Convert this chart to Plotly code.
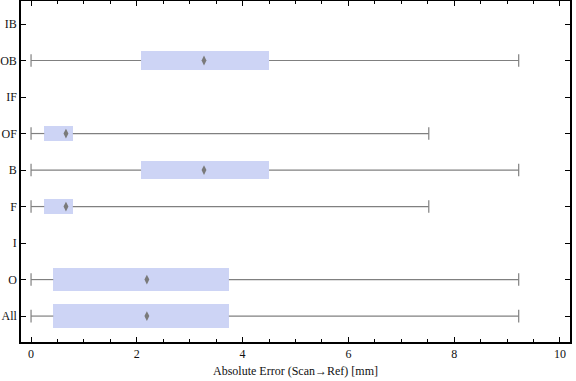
import plotly.graph_objects as go

categories = ["All", "O", "I", "F", "B", "OF", "IF", "OB", "IB"]
whisker_min = [0.0, 0.0, None, 0.0, 0.0, 0.0, None, 0.0, None]
q1 = [0.42, 0.42, None, 0.25, 2.08, 0.25, None, 2.08, None]
median = [2.19, 2.19, None, 0.66, 3.27, 0.66, None, 3.27, None]
q3 = [3.74, 3.74, None, 0.79, 4.50, 0.79, None, 4.50, None]
whisker_max = [9.22, 9.22, None, 7.52, 9.22, 7.52, None, 9.22, None]
box_width = [0.65, 0.65, 0.5, 0.4, 0.5, 0.4, 0.5, 0.5, 0.5]

fig = go.Figure()

# boxes
bx, by, bb, bw = [], [], [], []
for c, a, b, w in zip(categories, q1, q3, box_width):
    if a is None:
        continue
    bx.append(b - a); by.append(c); bb.append(a); bw.append(w)
fig.add_trace(go.Bar(x=bx, y=by, base=bb, width=bw, orientation="h",
                     marker=dict(color="#cdd4f5", line=dict(width=0)),
                     showlegend=False, hoverinfo="skip"))

# whiskers
wx, wy = [], []
cx, cy = [], []
for c, lo, a, b, hi in zip(categories, whisker_min, q1, q3, whisker_max):
    if lo is None:
        continue
    wx += [lo, a, None, b, hi, None]
    wy += [c, c, None, c, c, None]
    cx += [lo, hi]
    cy += [c, c]
fig.add_trace(go.Scatter(x=wx, y=wy, mode="lines",
                         line=dict(color="#808080", width=1.2),
                         showlegend=False, hoverinfo="skip"))
fig.add_trace(go.Scatter(x=cx, y=cy, mode="markers",
                         marker=dict(symbol="line-ns", size=9,
                                     line=dict(color="#808080", width=1.2)),
                         showlegend=False, hoverinfo="skip"))

# medians
mx = [m for m in median if m is not None]
my = [c for c, m in zip(categories, median) if m is not None]
fig.add_trace(go.Scatter(x=mx, y=my, mode="markers",
                         marker=dict(symbol="diamond-tall", size=7, color="#7a7a7a",
                                     line=dict(width=0)),
                         showlegend=False, hoverinfo="skip"))

font = dict(family="Liberation Serif", size=12, color="#111111")
fig.update_layout(
    width=576, height=381,
    margin=dict(l=21, r=6, t=1, b=39),
    plot_bgcolor="white", paper_bgcolor="white",
    font=font,
    bargap=0,
    xaxis=dict(range=[-0.19, 10.19], tickvals=[0, 2, 4, 6, 8, 10],
               ticks="inside", ticklen=5, tickcolor="black", tickwidth=1,
               minor=dict(ticks="inside", ticklen=3, dtick=0.5, tickcolor="black", showgrid=False),
               showline=True, linecolor="black", linewidth=1.5, mirror="ticks",
               showgrid=False, zeroline=False, automargin=False,
               title=dict(text="Absolute Error (Scan→Ref) [mm]", font=font, standoff=6)),
    yaxis=dict(type="category", categoryorder="array", categoryarray=categories,
               range=[-0.71, 8.63], automargin=False,
               ticks="inside", ticklen=5, tickcolor="black", tickwidth=1,
               showline=True, linecolor="black", linewidth=1.5, mirror="ticks",
               showgrid=False, zeroline=False),
)

fig.write_html("out.html", config={"displayModeBar": False},
               post_script="document.body.style.margin='0px';")
